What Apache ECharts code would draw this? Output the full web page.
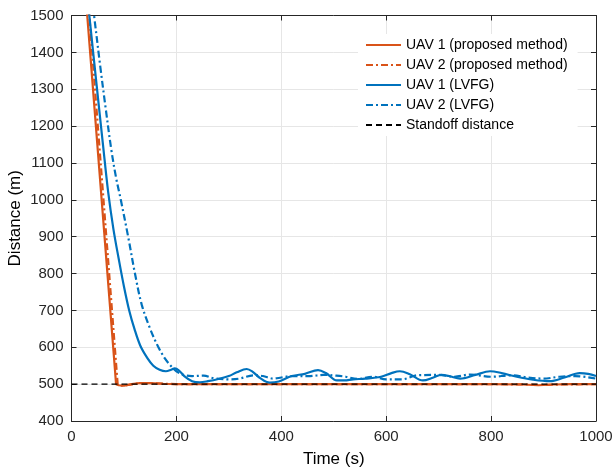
<!DOCTYPE html>
<html>
<head>
<meta charset="utf-8">
<script src="https://cdn.jsdelivr.net/npm/echarts@6/dist/echarts.min.js"></script>
<style>
html,body{margin:0;padding:0;background:#fff;}
#chart{width:614px;height:468px;}
</style>
</head>
<body>
<div id="chart"></div>
<script>
// ---- data (time s, distance m) ----
var seriesNames = ['UAV 1 (proposed method)', 'UAV 2 (proposed method)', 'UAV 1 (LVFG)', 'UAV 2 (LVFG)', 'Standoff distance'];
var xTicks = [0, 200, 400, 600, 800, 1000];
var yTicks = [400, 500, 600, 700, 800, 900, 1000, 1100, 1200, 1300, 1400, 1500];

var uav1Proposed = [[0,2045],[30,1500],[85,500],[90,497],[100,496],[115,500],[130,503],[150,503],[175,501],[200,500],[300,500],[400,500],[500,500],[600,500],[700,500],[800,500],[860,499],[890,497],[920,499],[950,500],[1000,500]];
var uav2Proposed = [[0,2140],[34,1500],[88,500],[95,496],[105,497],[120,501],[140,503],[160,502],[200,500],[300,500],[400,500],[500,500],[600,500],[700,500],[800,500],[870,499],[900,498],[930,499],[1000,500]];
var uav1LVFG = [[0,1980],[20,1700],[34,1500],[48,1310],[60,1150],[70,1020],[80,920],[90,840],[100,765],[110,700],[120,650],[131,605],[145,570],[156,550],[168,539],[180,535],[190,539],[197,543],[205,537],[215,522],[230,508],[245,505],[260,508],[280,514],[300,522],[315,532],[334,541],[345,534],[359,517],[378,504],[395,507],[420,522],[445,528],[470,538],[485,530],[506,510],[520,510],[537,513],[560,515],[590,520],[610,530],[626,535],[645,527],[670,510],[690,518],[705,525],[720,522],[741,515],[770,525],[798,535],[820,530],[849,520],[880,512],[912,508],[940,518],[969,530],[985,528],[1000,522]];
var uav2LVFG = [[0,2010],[20,1760],[43,1500],[55,1360],[65,1250],[76,1135],[85,1060],[94,1000],[108,900],[121,800],[134,715],[150,650],[165,602],[178,570],[191,547],[200,535],[213,525],[230,522],[252,523],[271,516],[300,513],[320,515],[348,524],[365,522],[385,515],[400,518],[420,522],[455,522],[480,525],[505,523],[523,520],[545,514],[575,520],[600,513],[630,513],[660,524],[700,525],[730,520],[760,526],[800,520],[840,524],[870,518],[900,515],[930,520],[960,522],[1000,515]];
var standoff = [[0,500],[1000,500]];

var FONT = "'Liberation Sans', Arial, sans-serif";
var AX = '#262626';
var GRIDC = '#e6e6e6';
var ORANGE = '#D95319';
var BLUE = '#0072BD';

var chart = echarts.init(document.getElementById('chart'), null, {renderer: 'canvas'});

function mkLine(name, data, color, type, smooth, width) {
  return {
    name: name, type: 'line', data: data, showSymbol: false, symbol: 'none',
    smooth: smooth, clip: true, animation: false,
    lineStyle: {color: color, width: width, type: type},
    itemStyle: {color: color}
  };
}
function plain(v) { return String(v); }

var option = {
  animation: false,
  backgroundColor: '#fff',
  textStyle: {fontFamily: FONT},
  grid: {left: 71.5, right: 18, top: 15.5, bottom: 47, containLabel: false, outerBoundsMode: 'none'},
  legend: {
    orient: 'vertical', left: 358, top: 34,
    backgroundColor: '#fff', padding: [4, 10, 4, 7],
    itemWidth: 35, itemHeight: 14, itemGap: 6,
    itemStyle: {opacity: 0},
    textStyle: {fontFamily: FONT, fontSize: 14, color: '#000'},
    data: seriesNames
  },
  xAxis: [{
    type: 'value', min: 0, max: 1000, interval: 200, position: 'bottom',
    name: 'Time (s)', nameLocation: 'middle', nameGap: 30, nameMoveOverlap: false,
    nameTextStyle: {fontFamily: FONT, fontSize: 17, color: '#000'},
    axisLine: {show: true, onZero: false, lineStyle: {color: AX, width: 1}},
    axisTick: {show: true, inside: true, length: 5, lineStyle: {color: AX}},
    axisLabel: {fontFamily: FONT, fontSize: 15, color: AX, margin: 8, formatter: plain},
    splitLine: {show: true, lineStyle: {color: GRIDC, width: 1}}
  }, {
    type: 'value', min: 0, max: 1000, interval: 200, position: 'top',
    axisLine: {show: true, onZero: false, lineStyle: {color: AX, width: 1}},
    axisTick: {show: true, inside: true, length: 5, lineStyle: {color: AX}},
    axisLabel: {show: false}, splitLine: {show: false}
  }],
  yAxis: [{
    type: 'value', min: 400, max: 1500, interval: 100, position: 'left',
    name: 'Distance (m)', nameLocation: 'middle', nameGap: 48, nameMoveOverlap: false,
    nameTextStyle: {fontFamily: FONT, fontSize: 17, color: '#000'},
    axisLine: {show: true, onZero: false, lineStyle: {color: AX, width: 1}},
    axisTick: {show: true, inside: true, length: 5, lineStyle: {color: AX}},
    axisLabel: {fontFamily: FONT, fontSize: 15, color: AX, margin: 8, formatter: plain},
    splitLine: {show: true, lineStyle: {color: GRIDC, width: 1}}
  }, {
    type: 'value', min: 400, max: 1500, interval: 100, position: 'right',
    axisLine: {show: true, onZero: false, lineStyle: {color: AX, width: 1}},
    axisTick: {show: true, inside: true, length: 5, lineStyle: {color: AX}},
    axisLabel: {show: false}, splitLine: {show: false}
  }],
  series: [
    mkLine(seriesNames[0], uav1Proposed, ORANGE, 'solid', false, 2.2),
    mkLine(seriesNames[1], uav2Proposed, ORANGE, [7, 3, 2, 3], false, 2.2),
    mkLine(seriesNames[2], uav1LVFG, BLUE, 'solid', 0.35, 2.2),
    mkLine(seriesNames[3], uav2LVFG, BLUE, [7, 3, 2, 3], 0.35, 2.2),
    mkLine(seriesNames[4], standoff, '#000', [6, 4], false, 1.3)
  ]
};
chart.setOption(option);
</script>
</body>
</html>
